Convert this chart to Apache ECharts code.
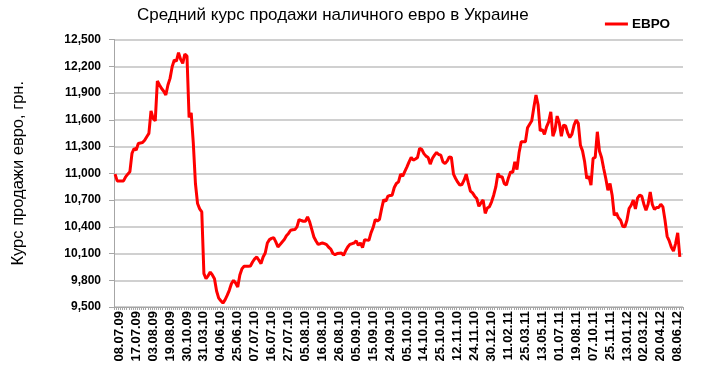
<!DOCTYPE html>
<html>
<head>
<meta charset="utf-8">
<script src="https://cdn.jsdelivr.net/npm/echarts@6/dist/echarts.min.js"></script>
<style>html,body{margin:0;padding:0;background:#fff}#c{width:706px;height:387px}</style>
</head>
<body>
<div id="c"></div>
<script>
var tickLabels = ["08.07.09","17.07.09","03.08.09","19.08.09","30.10.09","31.03.10","04.06.10","25.06.10","07.07.10","16.07.10","27.07.10","05.08.10","16.08.10","26.08.10","05.09.10","15.09.10","24.09.10","05.10.10","14.10.10","25.10.10","12.11.10","24.11.10","30.12.10","11.02.11","25.03.11","13.05.11","01.07.11","19.08.11","07.10.11","25.11.11","13.01.12","02.03.12","20.04.12","08.06.12"];
var categoryCount = 269;
var labelStart = 2;
var labelStep = 8;
var euroValues = [
10990,10914,10914,10914,10914,10960,10990,11016,11222,11278,
11260,11334,11340,11345,11370,11410,11447,11700,11615,11588,
12034,11990,11950,11920,11877,11989,12064,12195,12270,12258,
12352,12277,12233,12337,12315,11626,11678,11334,10885,10660,
10600,10566,9874,9818,9850,9892,9860,9818,9680,9600,
9570,9544,9580,9630,9687,9760,9799,9769,9724,9860,
9930,9956,9956,9956,9960,10005,10040,10061,10024,9987,
10061,10106,10218,10256,10270,10279,10230,10173,10200,10229,
10256,10300,10325,10361,10366,10368,10398,10481,10470,10462,
10462,10510,10454,10370,10285,10240,10203,10210,10218,10210,
10200,10170,10150,10100,10088,10099,10103,10106,10080,10130,
10173,10203,10210,10218,10241,10192,10218,10166,10256,10250,
10248,10331,10391,10481,10466,10481,10600,10705,10686,10743,
10750,10754,10840,10885,10904,10990,10967,11020,11072,11128,
11177,11147,11160,11177,11278,11267,11220,11192,11177,11102,
11166,11203,11233,11210,11203,11128,11109,11136,11184,11177,
10990,10941,10900,10866,10874,10922,10990,10892,10800,10780,
10743,10717,10630,10667,10700,10550,10610,10625,10680,10754,
10847,10997,10960,10960,10885,10866,10950,11016,11008,11128,
11042,11229,11352,11352,11352,11510,11550,11588,11740,11877,
11765,11476,11491,11435,11520,11577,11689,11416,11484,11641,
11566,11416,11540,11530,11450,11401,11439,11540,11596,11559,
11315,11251,11128,10941,10967,10866,11166,11177,11465,11250,
11177,11054,10941,10810,10885,10754,10529,10555,10500,10473,
10406,10398,10473,10604,10641,10700,10600,10720,10754,10743,
10653,10586,10653,10791,10650,10593,10616,10616,10653,10623,
10473,10293,10241,10170,10128,10211,10331,10061
];
var yMin = 9500, yMax = 12500, yStep = 300;

var categories = [];
for (var i = 0; i < categoryCount; i++) {
  var k = (i - labelStart) / labelStep;
  categories.push((i >= labelStart && k === Math.floor(k) && k < tickLabels.length) ? tickLabels[k] : '');
}

var chart = echarts.init(document.getElementById('c'), null, {renderer: 'canvas'});
chart.setOption({
  animation: false,
  backgroundColor: '#ffffff',
  title: {
    text: 'Средний курс продажи наличного евро в Украине',
    left: 132, top: 2,
    textStyle: {fontFamily: 'Liberation Sans, Arial, sans-serif', fontSize: 17, fontWeight: 'normal', color: '#000'}
  },
  legend: {
    right: 31, top: 12,
    icon: 'rect', itemWidth: 23, itemHeight: 3, itemGap: 4,
    textStyle: {fontFamily: 'Liberation Sans, Arial, sans-serif', fontSize: 13.5, fontWeight: 'bold', color: '#000', padding: [0,0,0,-1]},
    data: ['ЕВРО']
  },
  grid: {left: 114, right: 23, top: 39.5, bottom: 80, containLabel: false},
  xAxis: {
    type: 'category',
    data: categories,
    boundaryGap: true,
    axisLine: {lineStyle: {color: '#a6a6a6', width: 1}},
    axisTick: {show: true, interval: 0, length: 3, lineStyle: {color: '#a6a6a6'}},
    axisLabel: {
      interval: 0, rotate: 90, margin: 4,
      fontFamily: 'Liberation Sans, Arial, sans-serif', fontSize: 13, fontWeight: 'bold', color: '#000'
    },
    splitLine: {show: false}
  },
  yAxis: {
    type: 'value',
    min: yMin, max: yMax, interval: yStep,
    name: 'Курс продажи евро, грн.',
    nameLocation: 'middle', nameGap: 87, nameRotate: 90,
    nameTextStyle: {fontFamily: 'Liberation Sans, Arial, sans-serif', fontSize: 16.5, color: '#000'},
    axisLine: {show: true, lineStyle: {color: '#a6a6a6', width: 1}},
    axisTick: {show: true, length: 5, lineStyle: {color: '#a6a6a6'}},
    axisLabel: {
      margin: 13,
      fontFamily: 'Liberation Sans, Arial, sans-serif', fontSize: 12, fontWeight: 'bold', color: '#000',
      formatter: function (v) { return String(v).replace(/\B(?=(\d{3})+(?!\d))/g, ','); }
    },
    splitLine: {show: true, lineStyle: {color: '#c0c0c0', width: 1.5}}
  },
  series: [{
    name: 'ЕВРО',
    type: 'line',
    data: euroValues,
    showSymbol: false,
    symbol: 'none',
    smooth: false,
    lineStyle: {color: '#ff0000', width: 3},
    itemStyle: {color: '#ff0000'}
  }]
});
</script>
</body>
</html>
